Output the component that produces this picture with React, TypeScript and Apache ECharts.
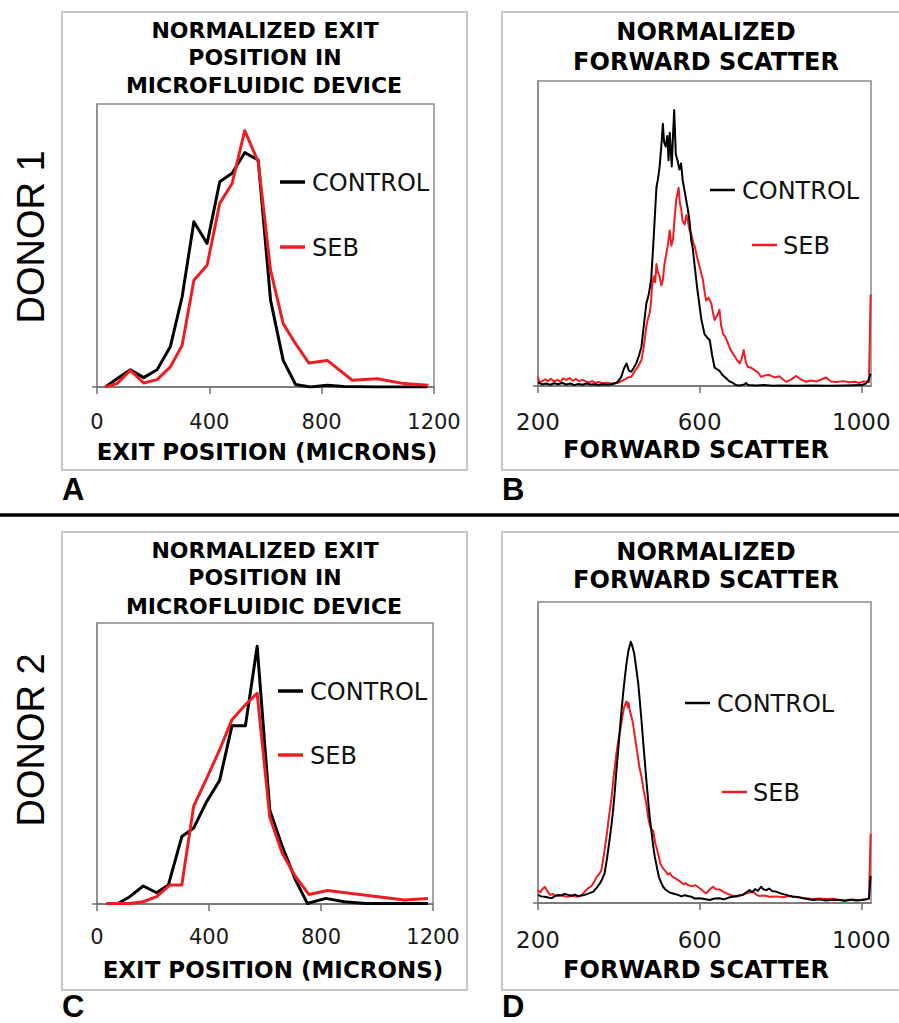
import React, { useEffect, useRef } from "react";
import * as echarts from "echarts";

// ---------- DATA ----------
const exitTicks = [0, 400, 800, 1200];
const fscTicks = [200, 600, 1000];

// Panel A (Donor 1, exit position, microns -> normalized count)
const ctrlA: [number, number][] = [
  [30, 0], [71, 2.9], [119, 6.1], [166, 3.3], [214, 6.1], [261, 14.2], [303, 31.8],
  [345, 58.4], [392, 50.7], [437, 72.5], [481, 75.5], [526, 82.8], [574, 80.2],
  [618, 30.7], [663, 9.4], [707, 0.9], [760, 0], [820, 0.6], [879, 0.2], [1000, 0], [1176, 0],
];
const sebA: [number, number][] = [
  [30, 0], [71, 1.2], [119, 5.9], [166, 1.4], [214, 2.6], [261, 7.1], [303, 14.7],
  [345, 37.7], [392, 43], [437, 64.9], [481, 71.9], [526, 90.6], [574, 79.6],
  [618, 41.3], [663, 22.4], [707, 15.3], [754, 8.5], [820, 9.4], [909, 2.4],
  [998, 2.9], [1093, 1.2], [1180, 0.6],
];

// Panel B (Donor 1, forward scatter histogram)
const ctrlB: [number, number][] = [
  [200, 1.2], [210, 0.5], [220, 0.8], [230, 0.4], [240, 0.9], [250, 0.6], [260, 1.0], [270, 0.5],
  [280, 0.8], [290, 0.3], [300, 0.7], [310, 0.4], [320, 0.8], [330, 0.5], [340, 0.6], [350, 0.3],
  [360, 0.6], [370, 0.4], [380, 0.5], [390, 0.8], [398, 1.5], [406, 3], [412, 5.5], [419, 7.4],
  [425, 5], [431, 4.7], [437, 6], [443, 7.4], [450, 10], [456, 12.9], [462, 20], [468, 27],
  [474, 30], [480, 34.8], [486, 48], [493, 65], [497, 68], [501, 72], [506, 80], [509, 86],
  [512, 80], [516, 78.5], [520, 82], [523, 74], [526, 83], [531, 72], [534, 82], [537, 90.5],
  [541, 76], [545, 74], [550, 71], [554, 73], [558, 67.5], [564, 63], [571, 57.7], [575, 54],
  [579, 48], [583, 45], [588, 39], [594, 32], [600, 26], [604, 22], [608, 19.5], [612, 17],
  [618, 16], [625, 15], [631, 10], [637, 6], [643, 5.5], [649, 5], [657, 3.5], [666, 2.5],
  [674, 1.5], [682, 1], [690, 0.3], [700, 0.2], [710, 0.5], [715, 1], [720, 0.3], [740, 0.2],
  [760, 0.3], [780, 0.1], [800, 0.2], [840, 0.1], [880, 0.2], [920, 0.1], [960, 0.2], [1000, 0.3],
  [1012, 0.8], [1018, 2], [1023, 4],
];
const sebB: [number, number][] = [
  [200, 3], [203, 1.4], [210, 1.5], [218, 2.2], [225, 1.6], [232, 2.4], [240, 1.5], [248, 2],
  [256, 1.4], [262, 2.5], [270, 2], [278, 2.6], [286, 1.7], [294, 2.3], [302, 1.6], [310, 2],
  [318, 1.5], [326, 1.2], [334, 1.6], [342, 1.0], [350, 1.3], [360, 0.9], [370, 1.1], [380, 0.8],
  [390, 1.0], [398, 1], [406, 1.6], [415, 2.2], [423, 2.8], [431, 3], [440, 5], [448, 6.5],
  [456, 8.5], [462, 13], [468, 19.5], [472, 22], [476.5, 24], [480, 28], [482, 32.6], [487, 36],
  [490, 34], [493, 40], [497, 37], [501, 36], [505, 33], [509, 34.8], [513, 40], [517.7, 43.5],
  [521, 46], [526, 51], [530, 46], [534, 48], [538, 55], [542, 61], [545, 63], [548, 65],
  [551, 60], [554.7, 57.7], [558, 54], [563, 53], [567, 56], [571, 54], [575, 51], [579, 50],
  [584, 47], [588, 45.7], [594, 42], [600, 39], [604, 37], [608, 34.8], [612, 31], [616, 28],
  [622, 29], [629, 27], [633, 24], [637, 21.6], [643, 23], [649, 25], [653, 20], [658, 17],
  [664, 16], [670, 14], [676, 12], [682, 10.7], [690, 9], [699, 7.4], [704, 9], [709, 11.8],
  [714, 8], [719, 6.3], [727, 6], [736, 5.2], [744, 4.5], [752, 3], [762, 3.5], [773, 3.6],
  [785, 2.8], [797, 3.2], [805, 2.3], [814, 1.4], [825, 2], [839, 3.3], [850, 2.2], [863, 1.4],
  [875, 1.8], [890, 1.5], [902, 2.2], [913, 2.8], [925, 1.5], [940, 1.3], [955, 1.6], [970, 1.2],
  [985, 1.4], [995, 1], [1005, 1.5], [1012, 1.4], [1019, 1.2], [1023, 30],
];

// Panel C (Donor 2, exit position)
const ctrlC: [number, number][] = [
  [75, 0.2], [117, 2.6], [165, 6.4], [213, 4], [255, 6.8], [303, 24], [345, 27], [392, 36.5],
  [438, 44], [482, 63.4], [530, 63.4], [572, 91.7], [617, 33.5], [662, 20.4], [709, 8.6],
  [751, 0.2], [817, 2], [883, 0.8], [960, 0.2], [1182, 0.2],
];
const sebC: [number, number][] = [
  [33, 0.2], [117, 0.2], [165, 0.8], [213, 2.6], [261, 6.8], [303, 6.8], [345, 34.7],
  [392, 44.8], [438, 54.9], [482, 65.6], [530, 70.9], [572, 75], [617, 31], [662, 18],
  [709, 9.7], [757, 3.4], [823, 4.8], [1098, 1.4], [1182, 2],
];

// Panel D (Donor 2, forward scatter histogram)
const ctrlD: [number, number][] = [
  [200, 2.7], [208, 2.2], [217, 2.1], [225, 1.8], [234, 1.6], [242, 2.3], [250, 2.7], [258, 2.5],
  [266, 3], [275, 2.7], [283, 2.4], [291, 2.8], [300, 2.3], [308, 2.5], [316, 2.7], [326, 3.2],
  [337, 3.8], [345, 5], [353, 6.5], [359, 8], [365, 9.9], [371, 15], [378, 22], [382, 26],
  [386, 31], [390, 37], [394, 44], [398, 50], [402.5, 57.5], [406, 63], [410.7, 69.7], [415, 75],
  [419, 79.6], [424, 84], [429.6, 86.8], [433, 85.5], [438, 83], [443, 78], [448, 73], [452, 67],
  [456, 60.8], [460, 54], [464, 47.5], [468, 41], [472, 35], [476, 29], [480.6, 24], [485, 19],
  [489, 15.4], [494, 12], [499, 8.7], [504, 7], [509.5, 5.4], [515, 4.5], [522, 3.8], [530, 3.3],
  [538, 3], [546.5, 2.7], [555, 2.2], [563, 2.6], [571, 2.3], [579, 2.1], [588, 1.5], [600, 1.6],
  [612, 1.3], [625, 1], [637, 1.5], [649, 1.6], [660, 1.2], [672, 1.8], [682, 2.1], [695, 2.4],
  [707, 2.7], [715, 3.5], [723.5, 4.3], [730, 3.6], [737, 4.6], [744, 4], [752, 5.4], [758, 4.5],
  [764.6, 4.3], [772, 4.8], [780, 3.9], [789, 3.8], [800, 3.2], [814, 2.7], [830, 2.1], [847, 1.9],
  [862, 1.4], [880, 1], [895, 1.2], [913, 0.8], [930, 1.1], [945.7, 1], [960, 0.7], [975, 1.1],
  [987, 0.8], [1000, 1], [1011.5, 1.2], [1019, 1.5], [1023, 9],
];
const sebD: [number, number][] = [
  [200, 4.3], [205, 3.5], [211, 4.6], [217, 5.4], [222, 4.2], [229.6, 2.7], [236, 3], [243, 2.5],
  [250, 2.3], [258, 2.6], [266, 2.2], [275, 2.1], [283, 2.4], [291, 2.2], [300, 2.1], [308, 2.6],
  [316, 3.8], [324, 4.9], [332, 5.6], [339, 7], [345, 8.7], [351, 9.5], [357, 11], [363, 16],
  [369.5, 22], [375, 28], [382, 35], [388, 43], [394, 49.7], [400, 55], [405, 58.6], [409, 62],
  [413, 65], [416, 66], [419, 67], [422, 65], [424, 66.5], [427, 64], [431, 62], [435, 59.7],
  [440, 55], [446, 49.7], [451, 45], [456, 42], [462, 37], [468, 33], [472, 29], [476.5, 26],
  [480, 24.5], [485, 24], [490, 20], [497, 16.5], [503, 13], [509.5, 11.5], [516, 10.5], [521, 9.5],
  [526, 9.9], [532, 8.8], [539, 8.3], [546.5, 7.6], [553, 7], [560, 6.2], [566, 6.6], [571, 6],
  [580, 5.6], [590, 5.9], [600, 4.9], [608, 4], [616.5, 3.2], [624, 4.4], [633, 5.4], [640, 4.6],
  [649, 4.5], [657, 3.9], [666, 3.2], [678, 2.6], [690.5, 2.1], [702, 2.6], [715, 3.2], [724, 3.5],
  [732, 3.8], [740, 2.8], [748, 2.3], [760, 2.5], [773, 2.1], [790, 2.2], [806, 1.9], [822, 2.3],
  [839, 2.1], [850, 1.7], [863, 1.6], [880, 1.3], [896, 1.5], [913, 1.3], [929, 1.4], [945, 1.1],
  [962, 1], [980, 1.2], [995, 0.9], [1003, 1.1], [1013, 1.3], [1019, 1.4], [1023, 23],
];

// ---------- STYLE ----------
const RED = "#ee1d23";
const BLACK = "#000000";
const GREY_BOX = "#c6c6c6";
const GREY_PLOT = "#8a8a8a";
const FONT = '"DejaVu Sans", Verdana, sans-serif';
const ARIAL = '"Liberation Sans", Arial, sans-serif';

type GridDef = { left: number; top: number; width: number; height: number };
const grids: GridDef[] = [
  { left: 97, top: 104, width: 337, height: 283 },
  { left: 538, top: 81, width: 333, height: 305 },
  { left: 97, top: 623, width: 336, height: 281 },
  { left: 538, top: 602, width: 333, height: 301 },
];
const labelMargins = [24, 24, 22, 25];
const labelSizes = [21, 23, 21, 23];

function xAxisFor(i: number) {
  const isExit = i === 0 || i === 2;
  const ticks = isExit ? exitTicks : fscTicks;
  return {
    type: "value",
    gridIndex: i,
    min: isExit ? 0 : 200,
    max: isExit ? 1200 : 1024,
    interval: 400,
    axisLine: { show: true, lineStyle: { color: "#6e6e6e", width: 1.5 } },
    axisTick: {
      show: true,
      length: 7,
      inside: false,
      customValues: ticks,
      lineStyle: { color: "#6e6e6e", width: 1.5 },
    },
    axisLabel: {
      show: true,
      customValues: ticks,
      formatter: (v: number) => String(v),
      margin: labelMargins[i],
      fontSize: labelSizes[i],
      fontFamily: FONT,
      color: "#1a1a1a",
    },
    splitLine: { show: false },
  };
}

function yAxisFor(i: number) {
  return {
    type: "value",
    gridIndex: i,
    min: 0,
    max: 100,
    interval: 100,
    axisLine: { show: true, lineStyle: { color: GREY_PLOT, width: 1.5 } },
    axisTick: { show: true, length: 5, customValues: [0], lineStyle: { color: "#6e6e6e", width: 1.5 } },
    axisLabel: { show: false },
    splitLine: { show: false },
  };
}

function lineSeries(idx: number, name: string, data: [number, number][], color: string, width: number) {
  return {
    type: "line",
    name,
    xAxisIndex: idx,
    yAxisIndex: idx,
    data,
    showSymbol: false,
    symbol: "none",
    lineStyle: { color, width, join: "round" },
    itemStyle: { color },
    z: 3,
  };
}

function txt(text: string, x: number, y: number, size: number, opts: any = {}) {
  return {
    type: "text",
    x,
    y,
    rotation: opts.rotation || 0,
    z: 10,
    style: {
      text,
      x: 0,
      y: 0,
      fill: opts.color || "#000",
      fontSize: size,
      fontFamily: opts.family || FONT,
      fontWeight: opts.bold ? "bold" : "normal",
      textAlign: opts.align || "center",
      textVerticalAlign: "middle",
    },
  };
}

function legend(lineX: number, textX: number, y: number, color: string, label: string, lw: number) {
  return [
    {
      type: "line",
      z: 10,
      shape: { x1: lineX, y1: y, x2: lineX + 25, y2: y },
      style: { stroke: color, lineWidth: lw },
    },
    txt(label, textX, y + 1, 24, { align: "left", color: "#111" }),
  ];
}

function box(x: number, y: number, w: number, h: number) {
  return {
    type: "rect",
    z: 1,
    shape: { x, y, width: w, height: h },
    style: { fill: "none", stroke: GREY_BOX, lineWidth: 2 },
  };
}

export default function App() {
  const ref = useRef<HTMLDivElement>(null);

  useEffect(() => {
    if (!ref.current) return;
    const chart = echarts.init(ref.current, undefined, { renderer: "svg" });

    const graphics: any[] = [
      box(62, 12, 405, 458),
      box(502, 12, 410, 458),
      box(62, 532, 405, 458),
      box(502, 532, 410, 458),
      // titles A
      txt("NORMALIZED EXIT", 265, 30, 22, { bold: true }),
      txt("POSITION IN", 265, 57, 22, { bold: true }),
      txt("MICROFLUIDIC DEVICE", 264, 85, 22, { bold: true }),
      // titles B
      txt("NORMALIZED", 706, 32, 24, { bold: true }),
      txt("FORWARD SCATTER", 706, 62, 24, { bold: true }),
      // titles C
      txt("NORMALIZED EXIT", 265, 550, 22, { bold: true }),
      txt("POSITION IN", 265, 577, 22, { bold: true }),
      txt("MICROFLUIDIC DEVICE", 264, 606, 22, { bold: true }),
      // titles D
      txt("NORMALIZED", 706, 552, 24, { bold: true }),
      txt("FORWARD SCATTER", 706, 580, 24, { bold: true }),
      // x-axis titles
      txt("EXIT POSITION (MICRONS)", 267, 452, 23, { bold: true }),
      txt("FORWARD SCATTER", 696, 450, 24, { bold: true }),
      txt("EXIT POSITION (MICRONS)", 273, 970, 23, { bold: true }),
      txt("FORWARD SCATTER", 696, 970, 24, { bold: true }),
      // legends
      ...legend(280, 312, 182, BLACK, "CONTROL", 3.5),
      ...legend(280, 312, 247, RED, "SEB", 3.5),
      ...legend(710, 742, 190, BLACK, "CONTROL", 2.5),
      ...legend(752, 783, 245, RED, "SEB", 2.5),
      ...legend(278, 310, 691, BLACK, "CONTROL", 3.5),
      ...legend(278, 310, 755, RED, "SEB", 3.5),
      ...legend(685, 717, 703, BLACK, "CONTROL", 2.5),
      ...legend(722, 753, 792, RED, "SEB", 2.5),
      // panel letters
      txt("A", 62, 489, 31, { bold: true, align: "left", family: ARIAL }),
      txt("B", 502, 489, 31, { bold: true, align: "left", family: ARIAL }),
      txt("C", 62, 1006, 31, { bold: true, align: "left", family: ARIAL }),
      txt("D", 502, 1006, 31, { bold: true, align: "left", family: ARIAL }),
      // divider
      {
        type: "line",
        z: 10,
        shape: { x1: 0, y1: 515, x2: 899, y2: 515 },
        style: { stroke: "#000", lineWidth: 3.5 },
      },
      // donor labels
      txt("DONOR 1", 31, 237, 38, { rotation: Math.PI / 2, family: ARIAL }),
      txt("DONOR 2", 31, 740, 38, { rotation: Math.PI / 2, family: ARIAL }),
    ];

    chart.setOption({
      animation: false,
      backgroundColor: "#ffffff",
      grid: grids.map((g) => ({
        left: g.left,
        top: g.top,
        width: g.width,
        height: g.height,
        show: true,
        borderColor: GREY_PLOT,
        borderWidth: 1.5,
        containLabel: false,
      })),
      xAxis: [0, 1, 2, 3].map(xAxisFor),
      yAxis: [0, 1, 2, 3].map(yAxisFor),
      series: [
        lineSeries(0, "CONTROL", ctrlA, BLACK, 3),
        lineSeries(0, "SEB", sebA, RED, 3),
        lineSeries(1, "SEB", sebB, RED, 2),
        lineSeries(1, "CONTROL", ctrlB, BLACK, 2),
        lineSeries(2, "CONTROL", ctrlC, BLACK, 3),
        lineSeries(2, "SEB", sebC, RED, 3),
        lineSeries(3, "SEB", sebD, RED, 2),
        lineSeries(3, "CONTROL", ctrlD, BLACK, 2),
      ],
      graphic: graphics,
    });

    return () => {
      chart.dispose();
    };
  }, []);

  return (
    <div
      ref={ref}
      style={{ position: "absolute", left: 0, top: 0, width: 899, height: 1023, background: "#fff" }}
    />
  );
}
